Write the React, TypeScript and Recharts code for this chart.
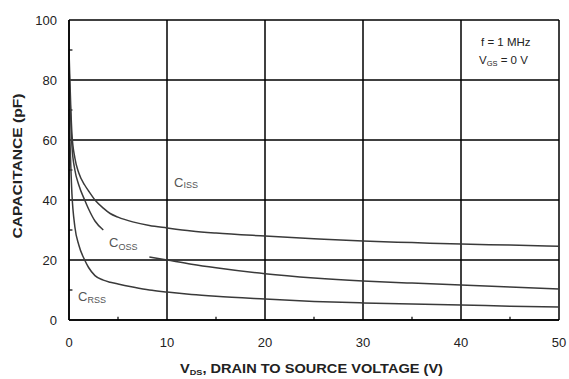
import React from 'react'
import { LineChart, Line, XAxis, YAxis, CartesianGrid, ReferenceLine } from 'recharts'

// drain-source voltage (V) sample points
const vds = [0, 0.3, 0.6, 1, 1.6, 2, 2.65, 3.5, 4.2, 5, 6.5, 8.2, 10, 12.5, 15, 20, 25, 30, 35, 40, 45, 50]

// capacitances in pF (null = break in the line for the label)
const ciss = [90, 62, 54, 49, 45, 43, 40, 37.3, 35.5, 34.3, 32.7, 31.5, 30.7, 29.7, 29, 28, 27.1, 26.3, 25.8, 25.3, 25, 24.6]
const coss = [85, 58, 50, 45, 40, 37, 33, 30, null, null, null, 21, 20, 18.6, 17.4, 15.4, 14, 13, 12.3, 11.7, 11, 10.3]
const crss = [70, 42, 31, 25, 20, 17.5, 14.8, 13.3, 12.6, 12, 11, 10, 9.3, 8.5, 7.9, 7, 6.2, 5.7, 5.3, 5, 4.6, 4.3]

const xTicks = [0, 10, 20, 30, 40, 50]
const yTicks = [0, 20, 40, 60, 80, 100]
const xMinor = [5, 15, 25, 35, 45]
const yMinor = [10, 30, 50, 70, 90]

const data = vds.map((v, i) => ({ v, ciss: ciss[i], coss: coss[i], crss: crss[i] }))

const font = '"Liberation Sans", Arial, sans-serif'
const tickStyle = { fontSize: 13, fill: '#222', fontFamily: font }
const curve = '#3a3a3a'

export default function App() {
  return (
    <div style={{ position: 'absolute', left: 0, top: 0, width: 569, height: 379, background: '#fff' }}>
      <LineChart width={569} height={379} data={data} margin={{ top: 20, right: 10, bottom: 0, left: 0 }}>
        <CartesianGrid stroke="#000" strokeWidth={1.5} />
        <XAxis
          type="number"
          dataKey="v"
          domain={[0, 50]}
          ticks={xTicks}
          height={59}
          tickSize={0}
          tickMargin={18}
          tickLine={false}
          axisLine={{ stroke: '#000', strokeWidth: 1.5 }}
          tick={tickStyle}
        />
        <YAxis
          type="number"
          domain={[0, 100]}
          ticks={yTicks}
          width={69}
          tickSize={0}
          tickMargin={12}
          tickLine={false}
          axisLine={{ stroke: '#000', strokeWidth: 1.5 }}
          tick={tickStyle}
        />
        {xMinor.map((x) => (
          <ReferenceLine key={'x' + x} segment={[{ x, y: 0 }, { x, y: 1.1 }]} stroke="#000" strokeWidth={1.2} />
        ))}
        {yMinor.map((y) => (
          <ReferenceLine key={'y' + y} segment={[{ x: 0, y }, { x: 0.35, y }]} stroke="#000" strokeWidth={1.2} />
        ))}
        <Line type="monotone" dataKey="ciss" stroke={curve} strokeWidth={1.5} dot={false} isAnimationActive={false} />
        <Line type="monotone" dataKey="coss" stroke={curve} strokeWidth={1.5} dot={false} connectNulls={false} isAnimationActive={false} />
        <Line type="monotone" dataKey="crss" stroke={curve} strokeWidth={1.5} dot={false} isAnimationActive={false} />
      </LineChart>

      {/* titles and annotations */}
      <svg width={569} height={379} style={{ position: 'absolute', left: 0, top: 0, pointerEvents: 'none' }} fontFamily={font}>
        <text x={18} y={166} transform="rotate(-90 18 166)" textAnchor="middle" dominantBaseline="central"
          fontSize={12.5} fontWeight="bold" fill="#222" textLength={145} lengthAdjust="spacingAndGlyphs">
          CAPACITANCE (pF)
        </text>
        <text x={180} y={373} fontSize={12} fontWeight="bold" fill="#222" textLength={263} lengthAdjust="spacingAndGlyphs">
          V<tspan fontSize={7.5} dy={2}>DS</tspan><tspan dy={-2}>, DRAIN TO SOURCE VOLTAGE (V)</tspan>
        </text>

        <text x={481} y={46} fontSize={11.5} fill="#222">f = 1 MHz</text>
        <text x={479} y={64} fontSize={11.5} fill="#222">
          V<tspan fontSize={7.5} dy={2}>GS</tspan><tspan dy={-2}> = 0 V</tspan>
        </text>

        <g fill="#555" fontSize={13}>
          <text x={174} y={187}>C<tspan fontSize={9} dy={1}>ISS</tspan></text>
          <text x={109} y={247}>C<tspan fontSize={9} dy={3}>OSS</tspan></text>
          <text x={78} y={301}>C<tspan fontSize={9} dy={2}>RSS</tspan></text>
        </g>
      </svg>
    </div>
  )
}
